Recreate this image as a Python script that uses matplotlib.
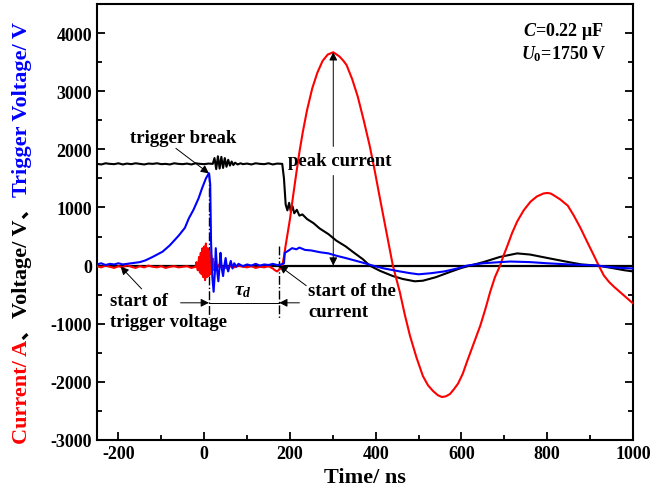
import matplotlib
matplotlib.use("Agg")
import matplotlib.pyplot as plt
from matplotlib.ticker import MultipleLocator

# ---- data (time in ns) ----
current_t = [-250, -240, -230, -220, -210, -200, -190, -180, -170, -160, -150, -140, -130, -120,
             -110, -100, -90, -80, -70, -60, -50, -40, -30, -20,
             -18, -15, -12, -10, -8, -6, -4, -2, 0, 2, 4, 6, 8, 10, 12, 14, 16, 18, 20, 23, 26, 30, 35,
             40, 50, 60, 70, 80, 90, 100, 110, 120, 130, 140, 150, 160, 165, 170, 176, 182,
             186, 190, 195, 200, 207, 215, 222, 230, 240, 252, 264, 276, 288, 301, 315, 325, 332,
             345, 358, 372, 386, 398, 410, 425, 440, 456, 468, 480, 495, 510, 522, 534, 545, 554,
             563, 573, 582, 592, 603, 613, 628, 644, 656, 667, 678, 690, 698, 707, 718, 730, 745,
             761, 776, 791, 800, 808, 815, 830, 848, 862, 878, 893, 909, 920, 932, 944, 955, 972,
             986, 1000]
current_a = [-10, -30, 0, -20, -40, -10, -30, 10, -20, -40, -10, -30, 0, -20,
             -30, -10, -40, -20, -10, -30, -20, -10, -40, -20,
             60, -80, 150, -120, 220, -150, 300, -200, 330, -250, 380, -200, 300, -180, 250, -150, 180, -100, 120, -80, 60, -40, 20,
             -20, -40, -10, -30, 0, -20, -30, -10, -40, -20, -30, -10, -50, -80, -100, -60, 0,
             150, 350, 580, 800, 1180, 1600, 1950, 2300, 2680, 3050, 3320, 3520, 3630, 3670, 3600, 3520, 3450,
             3210, 2910, 2500, 2060, 1620, 1150, 580, 0, -450, -850, -1210, -1580, -1900, -2060, -2160, -2230, -2260,
             -2250, -2210, -2130, -2030, -1860, -1650, -1350, -1030, -740, -450, -200, 0, 170, 340, 560, 760, 950,
             1100, 1190, 1240, 1250, 1240, 1210, 1140, 1030, 860, 640, 410, 170, 0, -170, -280, -360, -470,
             -560, -650]

voltage_t = [-250, -240, -230, -220, -210, -200, -190, -180, -170, -160, -150, -140, -130, -120,
             -110, -100, -90, -80, -70, -60, -50, -40, -30, -20, -10, 0, 10,
             20, 24, 28, 32, 36, 40, 44, 48, 52, 56, 60, 64, 68, 72, 78, 85,
             90, 100, 110, 120, 130, 140, 150, 160, 170, 182, 186, 190, 194, 198, 202, 206, 210,
             216, 222, 229, 240, 255, 269, 290, 308, 330, 346, 370, 386, 410, 440, 463, 491, 510,
             540, 573, 600, 620, 651, 690, 730, 760, 808, 850, 880, 918, 950, 980, 1000]
voltage_v = [1750, 1740, 1760, 1750, 1745, 1760, 1740, 1755, 1745, 1760, 1750, 1740, 1755, 1750,
             1760, 1745, 1750, 1740, 1760, 1750, 1745, 1755, 1740, 1760, 1750, 1745, 1755,
             1750, 1850, 1660, 1880, 1670, 1870, 1680, 1850, 1700, 1820, 1720, 1790, 1730, 1770, 1740, 1760,
             1745, 1755, 1740, 1760, 1750, 1745, 1760, 1740, 1755, 1750, 1500, 1050, 950, 1080, 930, 1020, 900,
             960, 860, 880, 800, 730, 640, 540, 430, 330, 240, 110, 0, -90, -180, -230, -270, -260,
             -200, -110, -40, 0, 60, 150, 210, 190, 120, 60, 20, 0, -40, -80, -100]

trigger_t = [-250, -240, -230, -220, -210, -200, -190, -180, -170, -150, -137, -120, -97, -80,
             -59, -45, -36, -25, -13, -5, 4, 11, 14, 16, 19, 22, 25, 27, 30, 33, 36, 38, 41, 44,
             47, 50, 53, 56, 59, 62, 66, 70, 75, 80, 90, 100, 110, 120, 130, 140, 150, 160, 170,
             180, 186, 188, 195, 205, 215, 222, 235, 250, 270, 290, 308, 330, 350, 370, 393, 420,
             456, 480, 500, 530, 560, 590, 613, 650, 690, 714, 760, 800, 850, 890, 918, 950, 1000]
trigger_v = [20, 40, 10, 30, 20, 40, 20, 30, 40, 60, 90, 150, 240, 350,
             520, 650, 810, 960, 1160, 1330, 1500, 1590, 1400, 400, -200, -450, -100, 300, -80, -270, 0, 220, -50, -180,
             0, 130, -30, -100, 0, 80, -50, 40, -20, 30, -10, 20, 0, 30, 0, 20, 10, 30, 10,
             20, 40, 220, 250, 300, 280, 310, 270, 260, 230, 210, 170, 130, 90, 50, 0, -50,
             -100, -130, -150, -130, -100, -50, 0, 40, 60, 70, 60, 40, 20, 10, 0, -30, -50]

x_ticks = [-200, 0, 200, 400, 600, 800, 1000]
y_ticks = [-3000, -2000, -1000, 0, 1000, 2000, 3000, 4000]

RED = "#ff0000"
BLUE = "#0000ff"

plt.rcParams["font.family"] = ["Liberation Serif", "Noto Sans CJK SC"]
plt.rcParams["font.weight"] = "bold"
plt.rcParams["axes.unicode_minus"] = False
plt.rcParams["mathtext.fontset"] = "custom"
plt.rcParams["mathtext.rm"] = "Liberation Serif:bold"
plt.rcParams["mathtext.it"] = "Liberation Serif:italic:bold"

fig = plt.figure(figsize=(6.52, 5.02), dpi=100)
ax = fig.add_axes([97 / 652, 61 / 502, 536 / 652, 436 / 502])

ax.axhline(0, color="black", lw=1.6, zorder=1)
ax.plot(voltage_t, voltage_v, color="black", lw=1.5, zorder=2)
ax.plot(current_t, current_a, color=RED, lw=1.5, zorder=3)
ax.plot(trigger_t, trigger_v, color=BLUE, lw=1.5, zorder=4)

ax.set_xlim(-250, 1000)
ax.set_ylim(-3000, 4500)
ax.set_xticks(x_ticks)
ax.set_yticks(y_ticks)
ax.xaxis.set_minor_locator(MultipleLocator(100))
ax.yaxis.set_minor_locator(MultipleLocator(500))
ax.tick_params(which="both", direction="in", right=True, labelsize=13, width=1.3)
ax.tick_params(which="major", length=6)
ax.tick_params(which="minor", length=3.5)
for lab in ax.get_xticklabels() + ax.get_yticklabels():
    lab.set_fontweight("bold")
for sp in ax.spines.values():
    sp.set_linewidth(1.5)

ax.set_xlabel("Time/ ns", fontsize=16, fontweight="bold", labelpad=4)

# annotations
arrow = dict(arrowstyle="-|>", color="black", lw=0.7, shrinkA=0, shrinkB=0,
             mutation_scale=12)
ax.text(-48, 2207, "trigger break", fontsize=13.5, ha="center", va="center")
ax.annotate("", xy=(11, 1586), xytext=(-66, 2017), arrowprops=arrow)

ax.text(316, 1810, "peak current", fontsize=13.5, ha="center", va="center")
ax.annotate("", xy=(301, 3670), xytext=(301, 2050), arrowprops=arrow)
ax.annotate("", xy=(301, 0), xytext=(301, 1550), arrowprops=arrow)

ax.text(-219, -600, "start of", fontsize=13.5, ha="left", va="center")
ax.text(-219, -966, "trigger voltage", fontsize=13.5, ha="left", va="center")
ax.annotate("", xy=(-195, -17), xytext=(-146, -400), arrowprops=arrow)

ax.text(243, -431, "start of the", fontsize=13.5, ha="left", va="center")
ax.text(243, -793, "current", fontsize=13.5, ha="left", va="center")
ax.annotate("", xy=(175, 0), xytext=(238, -345), arrowprops=arrow)

ax.plot([11, 11], [1586, -880], color="black", lw=1, ls="-.")
ax.plot([175, 175], [345, -914], color="black", lw=1, ls="-.")
ax.plot([11, 175], [-640, -640], color="black", lw=0.7)
ax.annotate("", xy=(11, -640), xytext=(-55, -640), arrowprops=arrow)
ax.annotate("", xy=(175, -640), xytext=(222, -640), arrowprops=arrow)
ax.text(91, -420, r"$\tau_d$", fontsize=14, ha="center", va="center")

ax.text(838, 4050, r"$C$=0.22 μF", fontsize=13, ha="center", va="center")
ax.text(838, 3650, r"$U_{\rm 0}$=1750 V", fontsize=13, ha="center", va="center")

# multi-coloured y label, stacked bottom to top
pieces = [("Current/ A", RED), ("、", "black"), ("Voltage/ V", "black"),
          ("、", "black"), ("Trigger Voltage/ V", BLUE)]
renderer = fig.canvas.get_renderer()
texts = []
heights = []
for s, c in pieces:
    t = fig.text(0, 0, s, rotation=90, fontsize=16, color=c, fontweight="bold",
                 ha="center", va="bottom")
    heights.append(t.get_window_extent(renderer).height)
    texts.append(t)
total = sum(heights)
y0 = (502 - 233) - total / 2
for t, h in zip(texts, heights):
    t.set_position((22 / 652, y0 / 502))
    y0 += h

fig.savefig("out.png", dpi=100)
